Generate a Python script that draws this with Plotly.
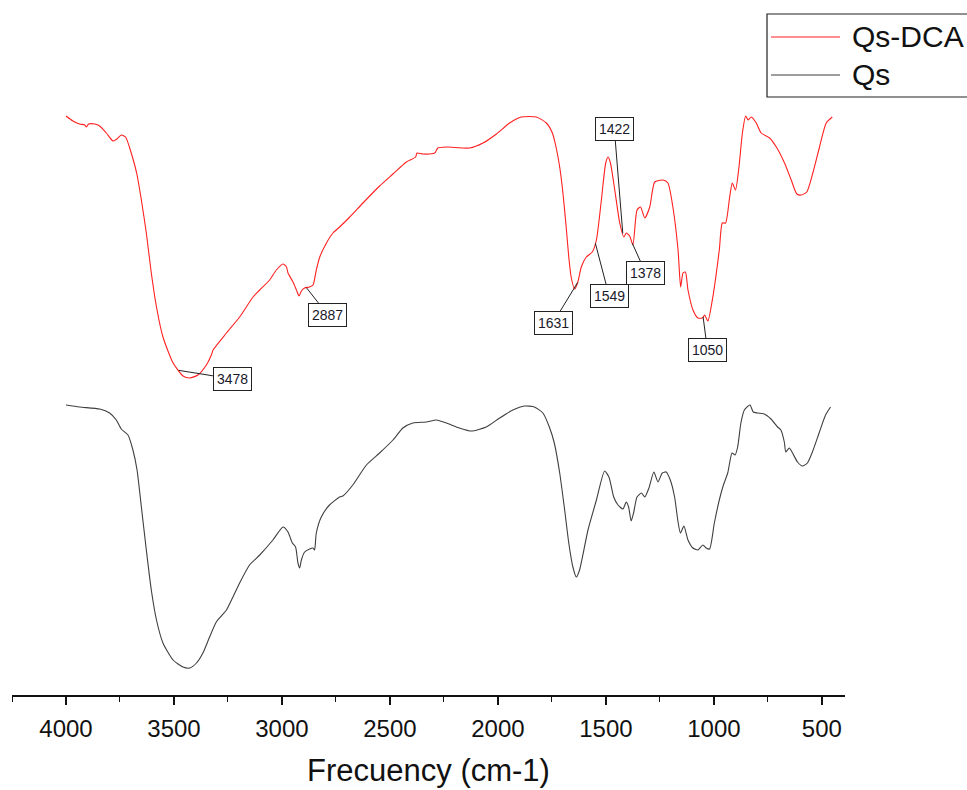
import numpy as np
import plotly.graph_objects as go

# FTIR spectra: wavenumber (cm-1) and offset transmittance (a.u.)
wn_qsdca = [4000, 3968, 3937, 3913, 3906, 3895, 3867, 3844, 3813, 3782, 3764, 3744, 3724, 3705,
            3682, 3671, 3651, 3628, 3605, 3581, 3551, 3504, 3458, 3427, 3389, 3350, 3327, 3319,
            3257, 3196, 3134, 3103, 3057, 3026, 2995, 2979, 2972, 2949, 2933, 2921, 2910, 2895,
            2872, 2856, 2841, 2825, 2794, 2764, 2733, 2686, 2625, 2548, 2486, 2424, 2381, 2375,
            2347, 2293, 2278, 2239, 2131, 2069, 2007, 1946, 1892, 1822, 1776, 1748, 1730, 1714,
            1699, 1684, 1672, 1661, 1645, 1630, 1614, 1591, 1563, 1544, 1521, 1501, 1490, 1479,
            1459, 1436, 1417, 1406, 1390, 1375, 1356, 1340, 1320, 1297, 1274, 1236, 1213, 1190,
            1166, 1154, 1143, 1132, 1120, 1097, 1074, 1054, 1043, 1028, 1005, 975, 961, 946,
            927, 915, 900, 884, 868, 853, 842, 827, 804, 781, 742, 711, 673, 642, 616, 595,
            570, 542, 511, 480, 452]
t_qsdca = [58.4, 57.9, 57.6, 57.5, 57.3, 57.6, 57.6, 57.4, 56.7, 55.9, 56.1, 56.5, 56.3, 55.2,
           53.5, 52.5, 50.0, 46.7, 42.7, 39.3, 36.3, 33.7, 32.4, 32.2, 32.5, 33.5, 34.5, 35.0,
           36.7, 38.3, 40.3, 41.0, 42.0, 43.0, 43.6, 43.3, 42.7, 41.8, 41.0, 40.4, 40.9, 41.2,
           41.3, 41.5, 43.0, 44.3, 45.7, 46.7, 47.3, 48.3, 49.7, 51.4, 52.6, 53.8, 54.3, 54.7,
           54.6, 54.7, 55.2, 55.3, 55.2, 55.7, 56.6, 57.7, 58.3, 58.3, 57.7, 56.7, 55.2, 53.3,
           50.7, 47.3, 44.3, 42.3, 41.1, 41.8, 43.3, 44.3, 44.8, 46.0, 50.0, 53.7, 54.3, 53.7,
           51.0, 47.7, 46.3, 46.7, 46.4, 45.5, 49.0, 49.3, 48.2, 49.3, 51.8, 52.0, 51.7, 49.3,
           45.0, 41.3, 42.7, 42.8, 41.0, 39.0, 38.2, 38.2, 38.5, 37.9, 40.3, 45.0, 47.7, 47.7,
           50.3, 51.7, 51.0, 53.3, 56.7, 58.4, 58.0, 58.3, 57.7, 56.7, 56.2, 55.3, 53.7, 52.0,
           50.6, 50.5, 50.8, 52.7, 55.3, 57.7, 58.3]

wn_qs = [4000, 3937, 3844, 3798, 3767, 3744, 3713, 3690, 3671, 3651, 3628, 3605, 3581, 3551,
         3504, 3458, 3427, 3396, 3366, 3335, 3304, 3257, 3227, 3196, 3150, 3103, 3042, 2995,
         2972, 2952, 2937, 2926, 2918, 2910, 2895, 2872, 2856, 2849, 2841, 2818, 2780, 2733,
         2718, 2672, 2609, 2548, 2486, 2440, 2394, 2332, 2285, 2239, 2178, 2123, 2054, 1992,
         1931, 1877, 1831, 1792, 1762, 1739, 1714, 1691, 1672, 1653, 1637, 1622, 1583, 1544,
         1506, 1486, 1464, 1444, 1421, 1406, 1395, 1383, 1372, 1356, 1336, 1320, 1301, 1278,
         1259, 1239, 1221, 1202, 1182, 1166, 1155, 1139, 1120, 1097, 1074, 1051, 1036, 1020,
         998, 975, 956, 936, 916, 902, 890, 875, 859, 833, 818, 798, 767, 736, 705, 690,
         674, 667, 651, 636, 613, 590, 567, 544, 513, 483, 460]
t_qs = [29.5, 29.3, 29.1, 28.7, 28.0, 27.1, 26.5, 25.0, 23.0, 19.3, 15.0, 11.0, 8.0, 5.7,
        4.0, 3.3, 3.2, 3.7, 4.7, 6.3, 7.8, 9.0, 10.3, 11.7, 13.5, 14.5, 16.0, 17.3,
        16.8, 15.7, 15.3, 13.7, 13.2, 14.0, 14.8, 15.1, 15.2, 15.0, 16.7, 18.3, 19.5, 20.3,
        20.4, 21.5, 23.5, 24.7, 26.0, 27.2, 27.7, 27.8, 28.0, 27.7, 27.2, 26.9, 27.3, 28.2,
        29.0, 29.4, 29.3, 28.7, 27.3, 25.7, 22.7, 19.0, 15.7, 13.3, 12.3, 13.0, 17.0, 20.0,
        22.9, 22.3, 20.3, 19.5, 19.1, 19.8, 19.3, 17.9, 18.7, 20.3, 20.7, 20.3, 21.2, 22.8,
        21.8, 22.7, 22.8, 22.0, 20.3, 17.8, 16.7, 17.4, 16.0, 15.2, 15.0, 15.5, 15.2, 15.1,
        17.7, 20.0, 21.5, 22.7, 24.7, 24.5, 25.3, 27.7, 29.0, 29.5, 28.8, 28.7, 28.6, 28.1,
        27.3, 27.0, 25.8, 24.8, 25.2, 24.7, 23.8, 23.4, 23.7, 24.8, 26.7, 28.5, 29.3]

# Labelled bands of Qs-DCA and where their boxes sit (wavenumber, transmittance)
peak_wn = [3478, 2887, 1631, 1549, 1422, 1378, 1050]
box_wn = [3228, 2787, 1745, 1485, 1461, 1316, 1030]
box_t = [32.1, 38.5, 37.7, 40.4, 57.1, 42.7, 35.0]

x_ticks = [4000, 3500, 3000, 2500, 2000, 1500, 1000, 500]

FONT = "Arial, Liberation Sans, sans-serif"
RED = "#ff2020"
DARK = "#3f3f3f"

fig = go.Figure()
fig.add_trace(go.Scatter(x=wn_qsdca, y=t_qsdca, mode="lines", name="Qs-DCA",
                         line=dict(color=RED, width=1.1, shape="spline", smoothing=0.6),
                         showlegend=False))
fig.add_trace(go.Scatter(x=wn_qs, y=t_qs, mode="lines", name="Qs",
                         line=dict(color=DARK, width=1.1, shape="spline", smoothing=0.6),
                         showlegend=False))

# Peak labels: leader line from the curve to a boxed value
xs = np.array(wn_qsdca[::-1], dtype=float)
ys = np.array(t_qsdca[::-1], dtype=float)
for p, bx, by in zip(peak_wn, box_wn, box_t):
    py = float(np.interp(p, xs, ys))
    fig.add_annotation(x=p, y=py, xref="x", yref="y",
                       ax=bx, ay=by, axref="x", ayref="y",
                       text=str(p), showarrow=True, arrowhead=0, arrowwidth=1,
                       arrowcolor="#222", font=dict(family=FONT, size=14, color="#1a1a2a"),
                       bordercolor="#222", borderwidth=1, borderpad=3,
                       bgcolor="white")

# Legend box
px = lambda v: (v - 12) / 833.0
py_ = lambda v: (695 - v) / 595.0
fig.add_shape(type="rect", xref="paper", yref="paper",
              x0=px(767), x1=px(1000), y0=py_(97), y1=py_(14),
              line=dict(color="#222", width=1.2), fillcolor="white")
fig.add_shape(type="line", xref="paper", yref="paper",
              x0=px(771), x1=px(840), y0=py_(37), y1=py_(37),
              line=dict(color=RED, width=1.2))
fig.add_shape(type="line", xref="paper", yref="paper",
              x0=px(771), x1=px(840), y0=py_(75), y1=py_(75),
              line=dict(color=DARK, width=1.2))
for name, yy in [("Qs-DCA", 37), ("Qs", 75)]:
    fig.add_annotation(x=px(850), y=py_(yy), xref="paper", yref="paper",
                       text=name, showarrow=False, xanchor="left", yanchor="middle",
                       font=dict(family=FONT, size=30, color="#111"))

fig.update_layout(
    width=967, height=790,
    margin=dict(l=12, r=122, t=100, b=95),
    plot_bgcolor="white", paper_bgcolor="white",
    font=dict(family=FONT, color="#111"),
    xaxis=dict(range=[4250, 393], tickvals=x_ticks,
               ticktext=[str(v) for v in x_ticks],
               automargin=False,
               showgrid=False, zeroline=False,
               showline=True, linecolor="#111", linewidth=1.5,
               ticks="outside", ticklen=8, tickwidth=1.5, tickcolor="#111",
               minor=dict(dtick=250, tick0=0, ticks="outside", ticklen=5,
                          tickwidth=1.3, tickcolor="#111", showgrid=False),
               tickfont=dict(family=FONT, size=24, color="#111"),
               ticklabelstandoff=3,
               title=dict(text="Frecuency (cm-1)", standoff=19,
                          font=dict(family=FONT, size=31, color="#111"))),
    yaxis=dict(range=[0.5, 60], visible=False),
)

fig.write_html("out.html")
